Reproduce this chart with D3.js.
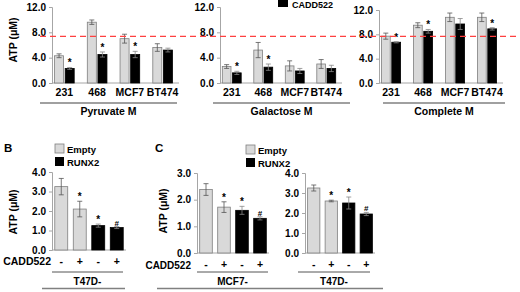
<!DOCTYPE html>
<html><head><meta charset="utf-8">
<script src="https://cdn.jsdelivr.net/npm/d3@7"></script>
<style>
body{margin:0;background:#fff;}
svg{display:block;font-family:"Liberation Sans",Arial,sans-serif;font-weight:bold;}
</style></head>
<body><svg id="c" width="520" height="292"></svg>
<script>
// ---- Data ----
const cellLines = ["231","468","MCF7","BT474"];
const pyruvateEmpty = [4.3, 9.6, 7.0, 5.6];
const pyruvateEmptyErr = [0.3, 0.35, 0.7, 0.6];
const pyruvateCadd = [2.3, 4.5, 4.5, 5.2];
const pyruvateCaddErr = [0.15, 0.4, 0.5, 0.3];
const pyruvateSig = ["*","*","*",""];
const galactoseEmpty = [2.6, 5.2, 2.7, 3.0];
const galactoseEmptyErr = [0.3, 1.2, 0.8, 0.7];
const galactoseCadd = [1.6, 2.5, 1.9, 2.3];
const galactoseCaddErr = [0.25, 0.5, 0.4, 0.5];
const galactoseSig = ["*","*","",""];
const completeEmpty = [7.7, 9.5, 10.8, 10.8];
const completeEmptyErr = [0.5, 0.4, 0.7, 0.7];
const completeCadd = [6.7, 8.5, 9.7, 8.9];
const completeCaddErr = [0.1, 0.3, 0.9, 0.2];
const completeSig = ["*","*","","*"];
const aTicks = [0, 4, 8, 12];
const refLine = 7.35;

const caddSigns = ["-","+","-","+"];
const runxGroups = ["Empty","Empty","RUNX2","RUNX2"];
const t47dB = [3.25, 2.1, 1.25, 1.15];
const t47dBErr = [0.42, 0.4, 0.08, 0.05];
const t47dBSig = ["","*","*","#"];
const mcf7C = [2.38, 1.72, 1.6, 1.3];
const mcf7CErr = [0.22, 0.2, 0.15, 0.06];
const mcf7CSig = ["","*","*","#"];
const t47dC = [3.25, 2.6, 2.5, 1.95];
const t47dCErr = [0.15, 0.04, 0.3, 0.08];
const t47dCSig = ["","*","*","#"];

const GRAY = "#d9d9d9", GRAYSTROKE = "#7f7f7f", BLACK = "#000";
const svg = d3.select("#c");

function yAxis(g, y, x, ticks, fmt){
  const ax = g.append("g").attr("transform",`translate(${x},0)`)
    .call(d3.axisLeft(y).tickValues(ticks).tickFormat(fmt).tickSize(3).tickPadding(3));
  ax.select(".domain").attr("stroke","#a6a6a6");
  ax.selectAll(".tick line").attr("stroke","#a6a6a6");
  ax.selectAll("text").attr("font-size",10).attr("fill","#000").attr("font-family","Liberation Sans, Arial").attr("font-weight","bold");
}
function bar(g, x, w, y, v, e, fill, sig){
  g.append("rect").attr("x",x).attr("width",w).attr("y",y(v)).attr("height",y(0)-y(v))
   .attr("fill",fill).attr("stroke", fill===BLACK?BLACK:GRAYSTROKE).attr("stroke-width",0.8);
  const cx = x + w/2;
  const ec = fill===BLACK ? "#888" : "#555";
  g.append("line").attr("x1",cx).attr("x2",cx).attr("y1",y(v+e)).attr("y2",y(v-e)).attr("stroke",ec).attr("stroke-width",0.8);
  [v+e, v-e].forEach(t=>g.append("line").attr("x1",cx-2.5).attr("x2",cx+2.5).attr("y1",y(t)).attr("y2",y(t)).attr("stroke",ec).attr("stroke-width",0.8));
  if(sig) g.append("text").attr("x",cx).attr("y",y(v+e)-1).attr("text-anchor","middle").attr("font-size",sig==="#"?8:10).attr("fill","#000").text(sig);
}

// ---- Panel A ----
function panelA(opt){
  const g = svg.append("g");
  const y = d3.scaleLinear().domain([0,12]).range([83, opt.yTop]);
  const x = d3.scaleBand().domain(cellLines).range(opt.xr).paddingInner(0.4).paddingOuter(0.2);
  const sub = d3.scaleBand().domain(["e","c"]).range([0, x.bandwidth()]).paddingInner(0.15);
  g.append("line").attr("x1",opt.ax).attr("x2",opt.xr[1]).attr("y1",y(0)).attr("y2",y(0)).attr("stroke","#a6a6a6");
  yAxis(g, y, opt.ax, aTicks, d3.format(".1f"));
  cellLines.forEach((c,i)=>{
    bar(g, x(c)+sub("e"), sub.bandwidth(), y, opt.e[i], opt.ee[i], GRAY, "");
    bar(g, x(c)+sub("c"), sub.bandwidth(), y, opt.c[i], opt.ce[i], BLACK, opt.sig[i]);
    g.append("text").attr("x", x(c)+x.bandwidth()/2).attr("y",96).attr("text-anchor","middle").attr("font-size",10.5).text(c);
  });
  g.append("line").attr("x1",opt.ul[0]).attr("x2",opt.ul[1]).attr("y1",103).attr("y2",103).attr("stroke","#808080").attr("stroke-width",1.5);
  g.append("text").attr("x",(opt.ul[0]+opt.ul[1])/2).attr("y",115).attr("text-anchor","middle").attr("font-size",10.5).text(opt.title);
  return y;
}
const yA1 = panelA({ax:52, xr:[48,179], yTop:7, e:pyruvateEmpty, ee:pyruvateEmptyErr, c:pyruvateCadd, ce:pyruvateCaddErr, sig:pyruvateSig, ul:[40,177], title:"Pyruvate M"});
panelA({ax:220, xr:[216,342], yTop:7, e:galactoseEmpty, ee:galactoseEmptyErr, c:galactoseCadd, ce:galactoseCaddErr, sig:galactoseSig, ul:[213,350], title:"Galactose M"});
panelA({ax:379, xr:[375,503], yTop:10, e:completeEmpty, ee:completeEmptyErr, c:completeCadd, ce:completeCaddErr, sig:completeSig, ul:[383,505], title:"Complete M"});
svg.append("line").attr("x1",40).attr("x2",520).attr("y1",yA1(refLine)).attr("y2",yA1(refLine))
  .attr("stroke","#ff4040").attr("stroke-width",1.2).attr("stroke-dasharray","6,4");
svg.append("text").attr("transform","translate(17,40) rotate(-90)").attr("text-anchor","middle").attr("font-size",10.5).text("ATP (\u03BCM)");
// top legend (partly off the top edge in the reference)
svg.append("rect").attr("x",278).attr("y",-3).attr("width",10).attr("height",10).attr("fill",BLACK);
svg.append("text").attr("x",292).attr("y",8).attr("font-size",9).text("CADD522");

// ---- Panels B and C ----
function panelBC(opt){
  const g = svg.append("g");
  const y = d3.scaleLinear().domain([0,opt.max]).range([opt.y0, 173 - (opt.y0===250?1:0)]);
  const x = d3.scaleBand().domain(d3.range(4)).range(opt.xr).paddingInner(0.3).paddingOuter(0.15);
  g.append("line").attr("x1",opt.ax).attr("x2",opt.xr[1]).attr("y1",y(0)).attr("y2",y(0)).attr("stroke","#a6a6a6");
  yAxis(g, y, opt.ax, d3.range(0,opt.max+1), d3.format(".1f"));
  opt.v.forEach((v,i)=>{
    bar(g, x(i), x.bandwidth(), y, v, opt.err[i], runxGroups[i]==="Empty"?GRAY:BLACK, opt.sig[i]);
    g.append("text").attr("x",x(i)+x.bandwidth()/2).attr("y",opt.y0+15).attr("text-anchor","middle").attr("font-size",10.5).text(caddSigns[i]);
  });
  g.append("line").attr("x1",opt.ul[0]).attr("x2",opt.ul[1]).attr("y1",272).attr("y2",272).attr("stroke","#555").attr("stroke-width",1);
  g.append("text").attr("x",(opt.ul[0]+opt.ul[1])/2).attr("y",285).attr("text-anchor","middle").attr("font-size",10).text(opt.title);
}
function legend(x, y){
  svg.append("rect").attr("x",x).attr("y",y).attr("width",9).attr("height",9).attr("fill",GRAY).attr("stroke",GRAYSTROKE).attr("stroke-width",0.8);
  svg.append("text").attr("x",x+12).attr("y",y+8.5).attr("font-size",9.5).text("Empty");
  svg.append("rect").attr("x",x).attr("y",y+13).attr("width",9).attr("height",9).attr("fill",BLACK);
  svg.append("text").attr("x",x+12).attr("y",y+21.5).attr("font-size",9.5).text("RUNX2");
}
svg.append("text").attr("x",4).attr("y",152).attr("font-size",11.5).text("B");
svg.append("text").attr("x",155).attr("y",152).attr("font-size",11.5).text("C");
legend(55,144); legend(246,145);
panelBC({ax:52, xr:[52,126], y0:250, max:4, v:t47dB, err:t47dBErr, sig:t47dBSig, ul:[52,123], title:"T47D-"});
panelBC({ax:197, xr:[197,269], y0:253, max:3, v:mcf7C, err:mcf7CErr, sig:mcf7CSig, ul:[197,268], title:"MCF7-"});
panelBC({ax:305, xr:[305,375], y0:253, max:4, v:t47dC, err:t47dCErr, sig:t47dCSig, ul:[298,370], title:"T47D-"});
svg.append("text").attr("x",51).attr("y",265).attr("text-anchor","end").attr("font-size",10.5).text("CADD522");
svg.append("text").attr("x",191).attr("y",268.5).attr("text-anchor","end").attr("font-size",10).text("CADD522");
svg.append("text").attr("transform","translate(17,212) rotate(-90)").attr("text-anchor","middle").attr("font-size",10.5).text("ATP (\u03BCM)");
svg.append("text").attr("transform","translate(167,211) rotate(-90)").attr("text-anchor","middle").attr("font-size",10.5).text("ATP (\u03BCM)");
svg.append("line").attr("x1",42).attr("x2",125).attr("y1",288.5).attr("y2",288.5).attr("stroke","#808080").attr("stroke-width",1.5);
svg.append("line").attr("x1",157).attr("x2",383).attr("y1",288.5).attr("y2",288.5).attr("stroke","#808080").attr("stroke-width",1.5);
</script></body></html>
